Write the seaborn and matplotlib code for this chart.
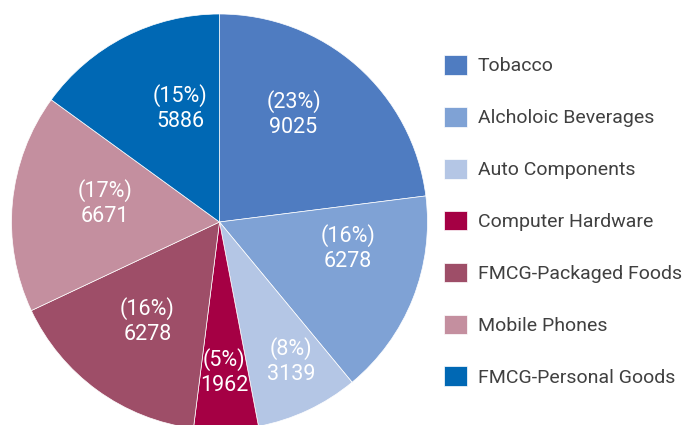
import numpy as np
import seaborn as sns
import matplotlib
matplotlib.use("Agg")
import matplotlib.pyplot as plt

# data
sectors = ["Tobacco", "Alcholoic Beverages", "Auto Components", "Computer Hardware",
           "FMCG-Packaged Foods", "Mobile Phones", "FMCG-Personal Goods"]
values = [9025, 6278, 3139, 1962, 6278, 6671, 5886]
shares = [23, 16, 8, 5, 16, 17, 15]
colors = ["#4F7CC1", "#7FA2D5", "#B4C6E5", "#A50044", "#9E4E68", "#C48F9F", "#0068B4"]

# label placement tweaks (radius fraction, angle offset in degrees)
label_r = [0.63, 0.63, 0.75, 0.72, 0.59, 0.56, 0.58]
label_dt = [7, 10, 2, 0, 0, -4, -8]

sns.set_theme(style="white")
plt.rcParams["font.family"] = ["Roboto", "DejaVu Sans"]

fig = plt.figure(figsize=(6.87, 4.25), dpi=100)
W, H = 687, 425
cx, cy, r = 219.5, 222, 208
ax = fig.add_axes([(cx - r) / W, (H - cy - r) / H, 2 * r / W, 2 * r / H])

wedges, _ = ax.pie(values, colors=sns.color_palette(colors), startangle=90,
                   counterclock=False, radius=1,
                   wedgeprops=dict(edgecolor="white", linewidth=0.5))
ax.set_xlim(-1, 1)
ax.set_ylim(-1, 1)
ax.set_aspect("equal")
ax.axis("off")

for w, v, s, lr, dt in zip(wedges, values, shares, label_r, label_dt):
    ang = np.deg2rad((w.theta1 + w.theta2) / 2 + dt)
    ax.text(lr * np.cos(ang), lr * np.sin(ang), f"({s}%)\n{v}",
            ha="center", va="center", color="white", fontsize=15.5, linespacing=1.25)

fig.legend(wedges, sectors, loc="upper left", bbox_to_anchor=(444 / W, 1 - 55 / H),
           frameon=False, fontsize=14, handlelength=1.18, handleheight=1.18,
           handletextpad=0.55, labelspacing=1.62, borderpad=0, borderaxespad=0,
           labelcolor="#404040")

fig.savefig("out.png", dpi=100, facecolor="white")
